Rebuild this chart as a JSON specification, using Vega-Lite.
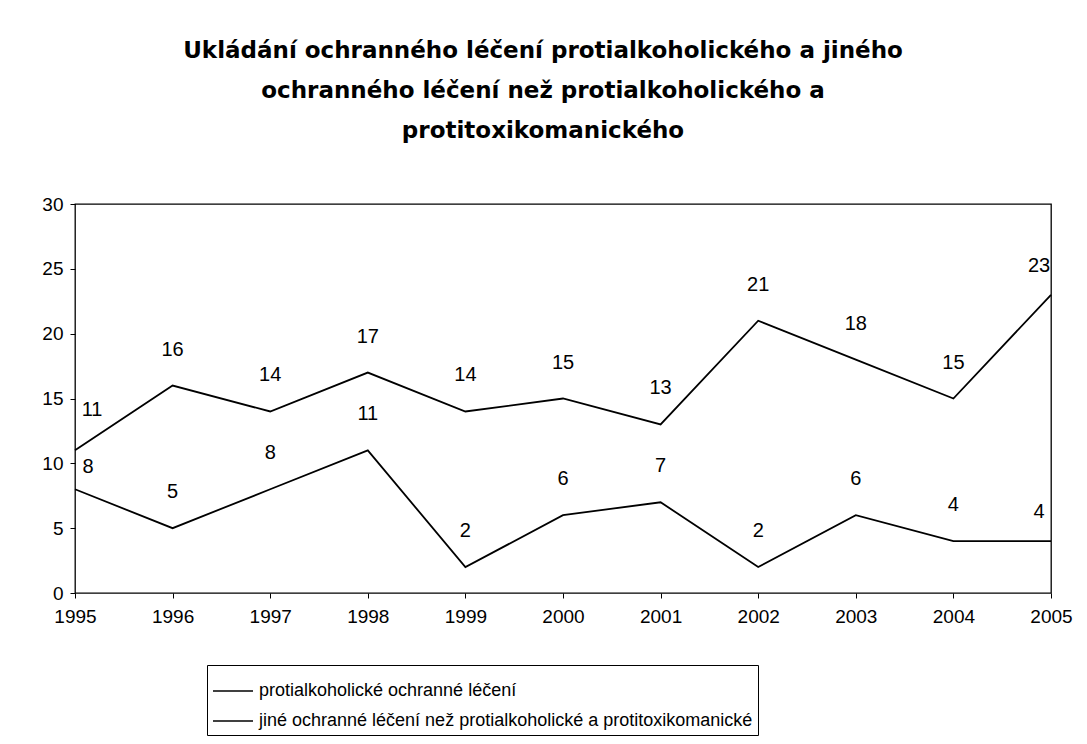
{
  "$schema": "https://vega.github.io/schema/vega-lite/v6.json",
  "width": 976,
  "height": 389,
  "autosize": {"type": "none"},
  "padding": {"left": 75, "top": 204, "right": 36, "bottom": 151},
  "background": "white",
  "config": {
    "font": "Liberation Sans",
    "view": {"stroke": "black", "strokeWidth": 1.3}
  },
  "title": {
    "text": ["Ukládání ochranného léčení protialkoholického a jiného", "ochranného léčení než protialkoholického a", "protitoxikomanického"],
    "fontSize": 23,
    "fontWeight": "bold",
    "font": "DejaVu Sans",
    "lineHeight": 40,
    "offset": 52,
    "dx": -20,
    "anchor": "middle",
    "color": "black"
  },
  "data": {
    "values": [
      {"year": "1995", "series": "protialkoholické ochranné léčení", "value": 8},
      {"year": "1996", "series": "protialkoholické ochranné léčení", "value": 5},
      {"year": "1997", "series": "protialkoholické ochranné léčení", "value": 8},
      {"year": "1998", "series": "protialkoholické ochranné léčení", "value": 11},
      {"year": "1999", "series": "protialkoholické ochranné léčení", "value": 2},
      {"year": "2000", "series": "protialkoholické ochranné léčení", "value": 6},
      {"year": "2001", "series": "protialkoholické ochranné léčení", "value": 7},
      {"year": "2002", "series": "protialkoholické ochranné léčení", "value": 2},
      {"year": "2003", "series": "protialkoholické ochranné léčení", "value": 6},
      {"year": "2004", "series": "protialkoholické ochranné léčení", "value": 4},
      {"year": "2005", "series": "protialkoholické ochranné léčení", "value": 4},
      {"year": "1995", "series": "jiné ochranné léčení než protialkoholické a protitoxikomanické", "value": 11},
      {"year": "1996", "series": "jiné ochranné léčení než protialkoholické a protitoxikomanické", "value": 16},
      {"year": "1997", "series": "jiné ochranné léčení než protialkoholické a protitoxikomanické", "value": 14},
      {"year": "1998", "series": "jiné ochranné léčení než protialkoholické a protitoxikomanické", "value": 17},
      {"year": "1999", "series": "jiné ochranné léčení než protialkoholické a protitoxikomanické", "value": 14},
      {"year": "2000", "series": "jiné ochranné léčení než protialkoholické a protitoxikomanické", "value": 15},
      {"year": "2001", "series": "jiné ochranné léčení než protialkoholické a protitoxikomanické", "value": 13},
      {"year": "2002", "series": "jiné ochranné léčení než protialkoholické a protitoxikomanické", "value": 21},
      {"year": "2003", "series": "jiné ochranné léčení než protialkoholické a protitoxikomanické", "value": 18},
      {"year": "2004", "series": "jiné ochranné léčení než protialkoholické a protitoxikomanické", "value": 15},
      {"year": "2005", "series": "jiné ochranné léčení než protialkoholické a protitoxikomanické", "value": 23}
    ]
  },
  "encoding": {
    "x": {
      "field": "year",
      "type": "ordinal",
      "scale": {"type": "point", "padding": 0},
      "axis": {
        "title": null,
        "labelAngle": 0,
        "labelFontSize": 19,
        "labelColor": "black",
        "labelPadding": 9,
        "domain": false,
        "tickColor": "black",
        "tickSize": 5,
        "grid": false
      }
    },
    "y": {
      "field": "value",
      "type": "quantitative",
      "scale": {"domain": [0, 30]},
      "axis": {
        "title": null,
        "values": [0, 5, 10, 15, 20, 25, 30],
        "labelFontSize": 19,
        "labelColor": "black",
        "labelPadding": 7,
        "domain": false,
        "tickColor": "black",
        "tickSize": 5,
        "grid": false
      }
    }
  },
  "layer": [
    {
      "mark": {"type": "line", "strokeWidth": 1.8},
      "encoding": {
        "color": {
          "field": "series",
          "type": "nominal",
          "scale": {
            "domain": ["protialkoholické ochranné léčení", "jiné ochranné léčení než protialkoholické a protitoxikomanické"],
            "range": ["black", "black"]
          },
          "legend": {
            "title": null,
            "orient": "none",
            "legendX": 132,
            "legendY": 461,
            "direction": "vertical",
            "symbolType": "stroke",
            "symbolSize": 1600,
            "symbolStrokeWidth": 1.5,
            "labelFontSize": 18,
            "labelColor": "black",
            "labelLimit": 700,
            "labelOffset": 5,
            "rowPadding": -5,
            "padding": 5,
            "strokeColor": "black",
            "fillColor": "white"
          }
        }
      }
    },
    {
      "transform": [{"filter": "datum.year != '1995' && datum.year != '2005'"}],
      "mark": {"type": "text", "fontSize": 20, "dy": -36, "color": "black"},
      "encoding": {"text": {"field": "value", "type": "quantitative"}}
    },
    {
      "transform": [{"filter": "datum.year == '1995' && datum.value == 11"}],
      "mark": {"type": "text", "fontSize": 20, "dx": 17, "dy": -40, "color": "black"},
      "encoding": {"text": {"field": "value", "type": "quantitative"}}
    },
    {
      "transform": [{"filter": "datum.year == '1995' && datum.value == 8"}],
      "mark": {"type": "text", "fontSize": 20, "dx": 13, "dy": -22, "color": "black"},
      "encoding": {"text": {"field": "value", "type": "quantitative"}}
    },
    {
      "transform": [{"filter": "datum.year == '2005'"}],
      "mark": {"type": "text", "fontSize": 20, "dx": -12, "dy": -29, "color": "black"},
      "encoding": {"text": {"field": "value", "type": "quantitative"}}
    }
  ]
}
